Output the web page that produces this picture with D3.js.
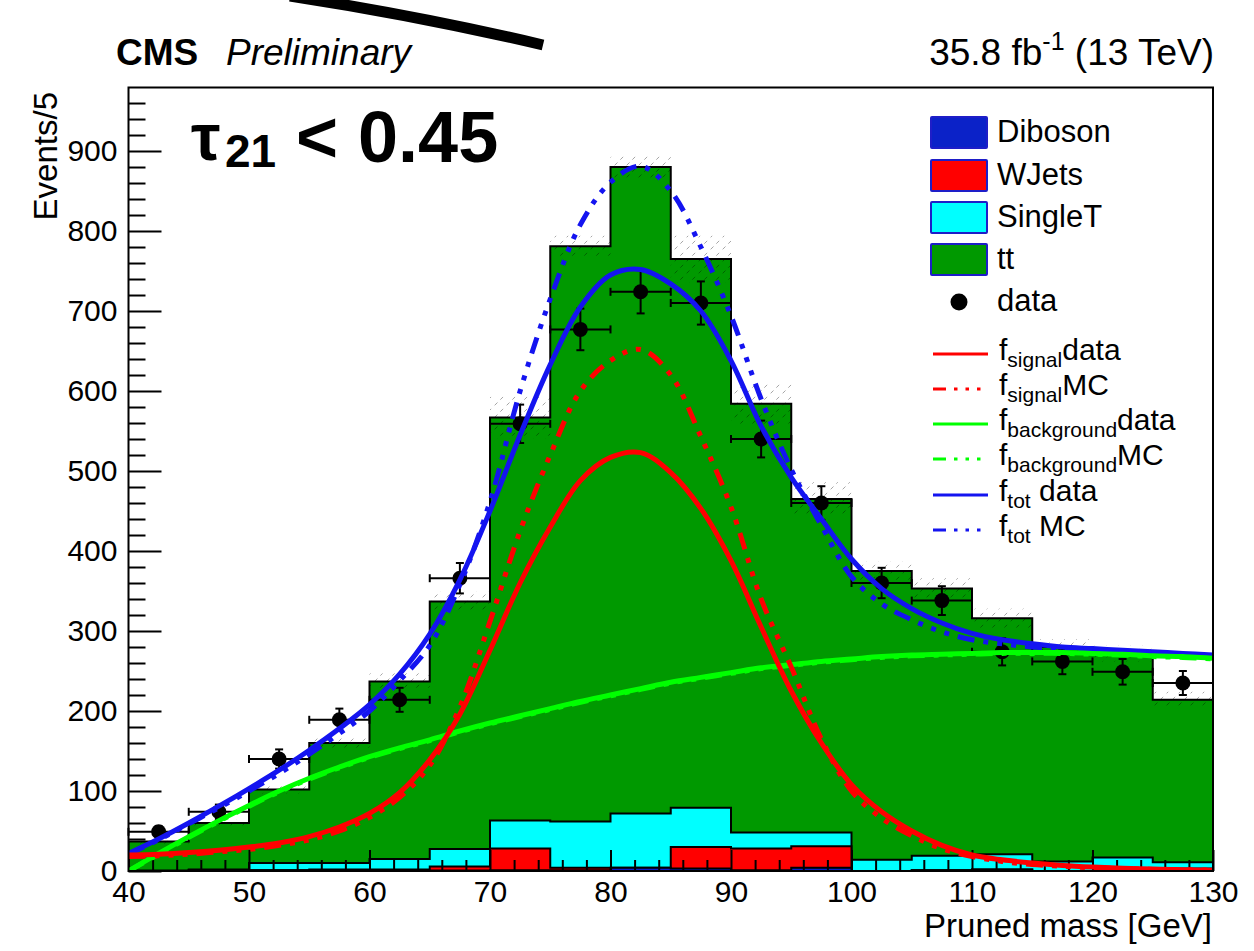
<!DOCTYPE html>
<html>
<head>
<meta charset="utf-8">
<script src="https://cdn.jsdelivr.net/npm/d3@7"></script>
<style>
body { margin: 0; background: #fff; }
text { font-family: "Liberation Sans", Arial, Helvetica, sans-serif; fill: #000; }
</style>
</head>
<body>
<svg id="chart" width="1254" height="951"></svg>
<script>
// ---- data ----
const binLow = [40, 45, 50, 55, 60, 65, 70, 75, 80, 85, 90, 95, 100, 105, 110, 115, 120, 125]
const binWidth = 5
const diboson = [0, 1, 1, 0.5, 0.5, 0.5, 1, 1, 4, 3, 1, 4, 0, 1, 2, 0, 0, 0]
const wjets = [0, 0, 0, 1.5, 1.5, 5, 27, 3, 0, 27, 27, 27, 0, 0, 0, 0, 0, 3]
const singleT = [0.5, 1, 9, 8, 13, 22, 35, 58, 68, 49, 20, 17, 14, 18, 19, 12, 17, 8]
const ttbar = [36.5, 58, 92, 150, 222, 309.5, 504, 719, 808, 686, 536, 417, 361, 334, 295, 268, 255, 203]
const mcUnc = [3, 4, 5, 6, 10, 12, 26, 13, 15, 29, 25, 21, 12, 13, 12, 10, 10, 10]

const dataX = [42.5, 47.5, 52.5, 57.5, 62.5, 67.5, 72.5, 77.5, 82.5, 87.5, 92.5, 97.5, 102.5, 107.5, 112.5, 117.5, 122.5, 127.5]
const dataY = [49, 74, 140, 189, 214, 366, 559, 677, 724, 710, 540, 460, 360, 338, 274, 262, 249, 235]
const dataErr = [7, 9, 12, 14, 15, 19, 24, 26, 27, 27, 23, 21, 19, 18, 17, 16, 16, 15]

const fitX = [40, 42.5, 45, 47.5, 50, 52.5, 55, 57.5, 60, 62.5, 65, 67.5, 70, 72.5, 75, 77.5, 80, 82.5, 85,
  87.5, 90, 92.5, 95, 97.5, 100, 102.5, 105, 107.5, 110, 112.5, 115, 117.5, 120, 122.5, 125, 127.5, 130]
const fSignalData = [20, 21, 23, 26, 30, 35, 43, 55, 72, 98, 139, 196, 276, 360, 430, 488, 517, 523, 498,
  453, 388, 305, 225, 160, 108, 74, 50, 32, 20, 14, 10, 7, 5, 3.5, 2.5, 1.5, 1]
const fSignalMC = [18, 19, 21, 24, 27, 32, 39, 50, 67, 92, 132, 205, 312, 425, 520, 600, 638, 652, 620,
  543, 455, 340, 255, 165, 100, 66, 44, 28, 18, 12, 8, 6, 4, 3, 2, 1.5, 1]
const fBkgData = [0, 22, 43, 63, 82, 100, 116, 130, 143, 154, 164, 175, 185, 194, 203, 212, 220, 228, 236,
  242, 248, 254, 258, 262, 265, 268, 270, 271, 272, 273, 273, 273, 272, 271, 269, 268, 266]
const fBkgMC = [0, 21, 42, 62, 81, 99, 115, 129, 142, 153, 163, 174, 184, 193, 202, 211, 219, 227, 235,
  241, 247, 253, 257, 261, 264, 267, 269, 270, 271, 272, 272, 272, 271, 270, 268, 267, 265]
const fTotData = [22, 40, 60, 81, 103, 126, 151, 178, 208, 246, 296, 364, 450, 545, 633, 705, 745, 752, 734,
  700, 638, 556, 492, 440, 390, 353, 328, 310, 297, 289, 284, 280, 278, 276, 274, 272, 270]
const fTotMC = [21, 39, 59, 79, 100, 122, 146, 172, 200, 238, 282, 358, 462, 600, 715, 808, 861, 881, 850,
  780, 694, 590, 502, 432, 368, 334, 314, 299, 289, 284, 280, 278, 276, 274, 273, 271, 269]

const xMajor = [40, 50, 60, 70, 80, 90, 100, 110, 120, 130]
const yMajor = [0, 100, 200, 300, 400, 500, 600, 700, 800, 900]

const COL = { diboson: '#0b22c8', wjets: '#ff0000', singleT: '#00ffff', tt: '#009900' }

// ---- setup ----
const svg = d3.select('#chart')
const x = d3.scaleLinear().domain([40, 130]).range([128.5, 1213])
const y = d3.scaleLinear().domain([0, 979.4]).range([871, 87.5])

const defs = svg.append('defs')
defs.append('clipPath').attr('id', 'frameClip')
  .append('rect').attr('x', x(40)).attr('y', y(979.4))
  .attr('width', x(130) - x(40)).attr('height', y(0) - y(979.4))
const hatch = defs.append('pattern').attr('id', 'hatch')
  .attr('patternUnits', 'userSpaceOnUse').attr('width', 12).attr('height', 12)
hatch.append('path').attr('d', 'M-3,15 L15,-3')
  .attr('stroke', '#000').attr('stroke-opacity', 0.35).attr('stroke-width', 1)
  .attr('stroke-dasharray', '4,4')

// ---- stacked histogram ----
const rows = binLow.map((b, i) => ({ x: b, diboson: diboson[i], wjets: wjets[i], singleT: singleT[i], tt: ttbar[i] }))
const keys = ['diboson', 'wjets', 'singleT', 'tt']
const stacked = d3.stack().keys(keys)(rows)

function stepPoints(tops) {
  const pts = [[binLow[0], 0]]
  tops.forEach((t, i) => { pts.push([binLow[i], t]); pts.push([binLow[i] + binWidth, t]) })
  pts.push([binLow[binLow.length - 1] + binWidth, 0])
  return pts
}
const stepLine = d3.line().x(d => x(d[0])).y(d => y(d[1]))

const gStack = svg.append('g').attr('clip-path', 'url(#frameClip)')
stacked.slice().reverse().forEach(series => {
  const tops = series.map(d => d[1])
  gStack.append('path')
    .attr('d', stepLine(stepPoints(tops)) + 'Z')
    .attr('fill', COL[series.key])
    .attr('stroke', '#000').attr('stroke-width', 2)
    .attr('stroke-linejoin', 'miter')
})

// MC uncertainty band
const totals = stacked[stacked.length - 1].map(d => d[1])
gStack.append('g').selectAll('rect').data(binLow).enter().append('rect')
  .attr('x', d => x(d)).attr('width', x(binWidth + 40) - x(40))
  .attr('y', (d, i) => y(totals[i] + mcUnc[i]))
  .attr('height', (d, i) => y(totals[i] - mcUnc[i]) - y(totals[i] + mcUnc[i]))
  .attr('fill', 'url(#hatch)')

// ---- axes ----
const xMinor = []
for (let v = 40; v <= 130; v += 2) if (v % 10 !== 0) xMinor.push(v)
const yMinor = []
for (let v = 20; v < 979; v += 20) if (v % 100 !== 0) yMinor.push(v)

svg.append('g').attr('transform', `translate(0,${y(0)})`)
  .call(d3.axisBottom(x).tickValues(xMajor).tickSize(-21).tickPadding(10).tickFormat(d3.format('d')))
svg.append('g').attr('transform', `translate(0,${y(0)})`)
  .call(d3.axisBottom(x).tickValues(xMinor).tickSize(-11).tickFormat(''))
svg.append('g').attr('transform', `translate(${x(40)},0)`)
  .call(d3.axisLeft(y).tickValues(yMajor).tickSize(-33).tickPadding(11).tickFormat(d3.format('d')))
svg.append('g').attr('transform', `translate(${x(40)},0)`)
  .call(d3.axisLeft(y).tickValues(yMinor).tickSize(-17).tickFormat(''))
svg.selectAll('.domain').remove()
svg.selectAll('.tick line').attr('stroke', '#000').attr('stroke-width', 2)
svg.selectAll('.tick text').attr('font-size', 30).attr('font-family', '"Liberation Sans", Arial, sans-serif')

// ---- data points ----
const gData = svg.append('g').attr('stroke', '#000').attr('stroke-width', 2)
dataX.forEach((dx, i) => {
  const cx = x(dx), cy = y(dataY[i])
  const xl = x(dx - binWidth / 2), xr = x(dx + binWidth / 2)
  const yt = y(dataY[i] + dataErr[i]), yb = y(dataY[i] - dataErr[i])
  gData.append('line').attr('x1', xl).attr('x2', xr).attr('y1', cy).attr('y2', cy)
  gData.append('line').attr('x1', xl).attr('x2', xl).attr('y1', cy - 4).attr('y2', cy + 4)
  gData.append('line').attr('x1', xr).attr('x2', xr).attr('y1', cy - 4).attr('y2', cy + 4)
  gData.append('line').attr('x1', cx).attr('x2', cx).attr('y1', yt).attr('y2', yb)
  gData.append('line').attr('x1', cx - 4).attr('x2', cx + 4).attr('y1', yt).attr('y2', yt)
  gData.append('line').attr('x1', cx - 4).attr('x2', cx + 4).attr('y1', yb).attr('y2', yb)
  gData.append('circle').attr('cx', cx).attr('cy', cy).attr('r', 7.5).attr('fill', '#000').attr('stroke', 'none')
})

// ---- fit curves ----
const DASH_PLOT = '17,9,5,9,5,9,5,9'
const curves = [
  { vals: fTotData, color: '#1414f0', dash: null },
  { vals: fTotMC, color: '#1414f0', dash: DASH_PLOT },
  { vals: fBkgData, color: '#00ff00', dash: null },
  { vals: fBkgMC, color: '#00ff00', dash: DASH_PLOT },
  { vals: fSignalData, color: '#ff0000', dash: null },
  { vals: fSignalMC, color: '#ff0000', dash: DASH_PLOT },
]
const fitLine = d3.line().x((d, i) => x(fitX[i])).y(d => y(d)).curve(d3.curveCatmullRom.alpha(0.5))
const gFit = svg.append('g').attr('clip-path', 'url(#frameClip)')
curves.forEach(c => {
  gFit.append('path').attr('d', fitLine(c.vals))
    .attr('fill', 'none').attr('stroke', c.color).attr('stroke-width', 5)
    .attr('stroke-dasharray', c.dash)
})

// ---- frame ----
svg.append('rect').attr('x', x(40)).attr('y', y(979.4))
  .attr('width', x(130) - x(40)).attr('height', y(0) - y(979.4))
  .attr('fill', 'none').attr('stroke', '#000').attr('stroke-width', 2)

// ---- legend ----
const leg = svg.append('g')
const boxEntries = [
  { label: 'Diboson', key: 'diboson', y: 117 },
  { label: 'WJets', key: 'wjets', y: 160 },
  { label: 'SingleT', key: 'singleT', y: 202 },
  { label: 'tt', key: 'tt', y: 244 },
]
boxEntries.forEach(e => {
  leg.append('rect').attr('x', 931).attr('y', e.y).attr('width', 56).attr('height', 31)
    .attr('fill', COL[e.key]).attr('stroke', '#1e1ec8').attr('stroke-width', 2).attr('rx', 1)
  leg.append('text').attr('x', 997).attr('y', e.y + 25).attr('font-size', 31).text(e.label)
})
leg.append('circle').attr('cx', 959).attr('cy', 302).attr('r', 8.5).attr('fill', '#000')
leg.append('text').attr('x', 997).attr('y', 311).attr('font-size', 31).text('data')

const DASH_LEG = '13,8,3.5,8,3.5,8,3.5,8'
const lineEntries = [
  { sub: 'signal', tail: 'data', color: '#ff0000', dash: null, y: 354 },
  { sub: 'signal', tail: 'MC', color: '#ff0000', dash: DASH_LEG, y: 389 },
  { sub: 'background', tail: 'data', color: '#00ff00', dash: null, y: 424 },
  { sub: 'background', tail: 'MC', color: '#00ff00', dash: DASH_LEG, y: 459 },
  { sub: 'tot', tail: ' data', color: '#1414f0', dash: null, y: 495 },
  { sub: 'tot', tail: ' MC', color: '#1414f0', dash: DASH_LEG, y: 530 },
]
lineEntries.forEach(e => {
  leg.append('line').attr('x1', 933).attr('x2', 988).attr('y1', e.y).attr('y2', e.y)
    .attr('stroke', e.color).attr('stroke-width', 3).attr('stroke-dasharray', e.dash)
  const t = leg.append('text').attr('x', 999).attr('y', e.y + 6).attr('font-size', 30)
    .attr('xml:space', 'preserve')
  t.append('tspan').text('f')
  t.append('tspan').attr('font-size', 21).attr('dy', 7).text(e.sub)
  t.append('tspan').attr('dy', -7).text(e.tail)
})

// ---- texts ----
svg.append('text').attr('x', 116).attr('y', 65).attr('font-size', 37).attr('font-weight', 'bold').text('CMS')
svg.append('text').attr('x', 226).attr('y', 65).attr('font-size', 37).attr('font-style', 'italic').text('Preliminary')
const lumi = svg.append('text').attr('x', 1214).attr('y', 65).attr('font-size', 37).attr('text-anchor', 'end')
  .attr('xml:space', 'preserve')
lumi.append('tspan').text('35.8 fb')
lumi.append('tspan').attr('font-size', 25).attr('dy', -15).text('-1')
lumi.append('tspan').attr('dy', 15).text(' (13 TeV)')

const tau = svg.append('g').attr('font-weight', 'bold')
tau.append('text').attr('x', 191).attr('y', 160).attr('font-size', 66).attr('font-weight', 'bold').text('τ')
tau.append('text').attr('x', 225).attr('y', 167).attr('font-size', 46).attr('font-weight', 'bold').text('21')
tau.append('text').attr('x', 296).attr('y', 162).attr('font-size', 72).attr('font-weight', 'bold').text('< 0.45')

svg.append('text').attr('transform', 'translate(57,92) rotate(-90)').attr('text-anchor', 'end')
  .attr('font-size', 33).text('Events/5')
svg.append('text').attr('x', 1212).attr('y', 937).attr('text-anchor', 'end')
  .attr('font-size', 33).text('Pruned mass [GeV]')

// stray pen stroke at the top of the canvas
svg.append('path').attr('d', 'M290,-4 Q420,16 543,45')
  .attr('fill', 'none').attr('stroke', '#000').attr('stroke-width', 11)
</script>
</body>
</html>
